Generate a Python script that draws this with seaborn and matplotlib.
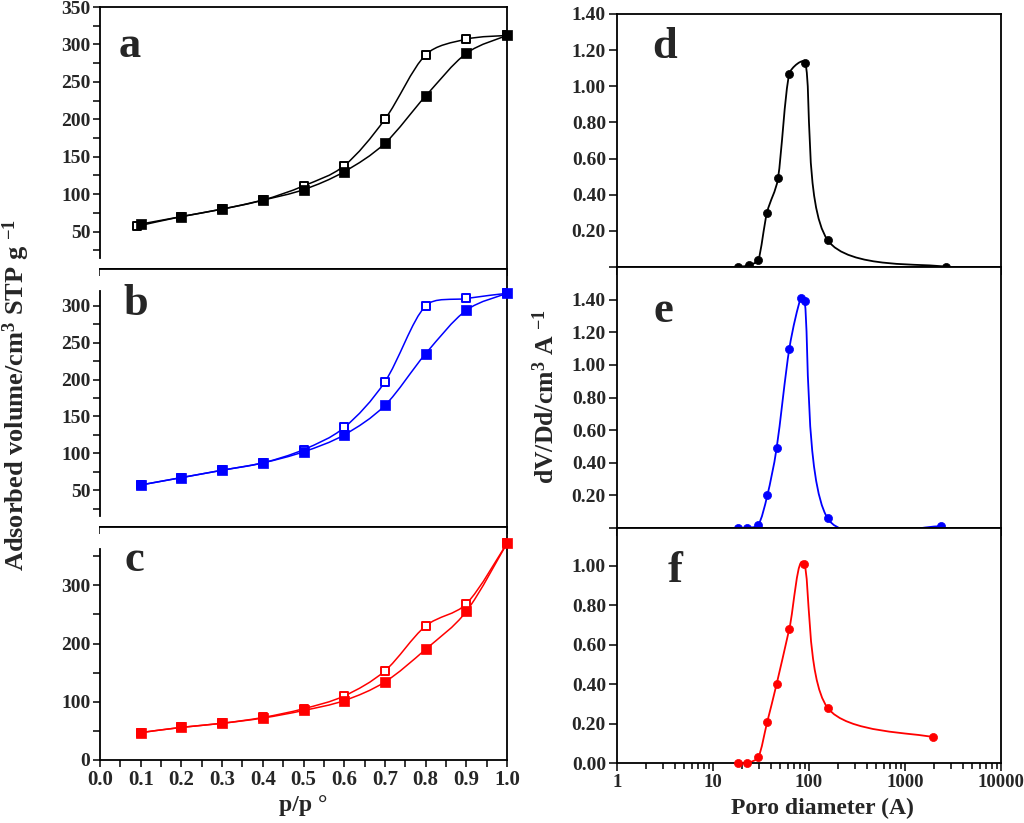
import numpy as np
import pandas as pd
import matplotlib
matplotlib.use('Agg')
import matplotlib.pyplot as plt
import seaborn as sns
from matplotlib.path import Path
from matplotlib.patches import PathPatch
from matplotlib import ticker

# isotherms, relative pressure p/p0
p_ads = [0.1, 0.2, 0.3, 0.4, 0.5, 0.6, 0.7, 0.8, 0.9, 1.0]
p_des_a = [0.09, 0.2, 0.3, 0.4, 0.5, 0.6, 0.7, 0.8, 0.9, 1.0]
p_des = [0.1, 0.2, 0.3, 0.4, 0.5, 0.6, 0.7, 0.8, 0.9, 1.0]
a_ads = [60, 70, 80, 92, 106, 130, 168, 231, 288, 312]
a_des = [57, 70, 80, 92, 111, 138, 200, 286, 307, 312]
b_ads = [57, 67, 77, 87, 102, 125, 165, 235, 294, 317]
b_des = [57, 67, 77, 87, 105, 135, 197, 300, 310, 317]
c_ads = [47, 56, 63, 72, 85, 102, 134, 190, 255, 372]
c_des = [47, 56, 63, 73, 88, 110, 153, 230, 268, 372]

# pore size distributions
d_diam = [18.4, 23.7, 29.7, 36.5, 47.5, 62.4, 91.6, 156, 2670]
d_dv = [0.0, 0.01, 0.04, 0.30, 0.49, 1.07, 1.13, 0.15, 0.0]
e_diam = [18.4, 22.8, 29.7, 36.8, 46, 62.4, 81.9, 90.2, 156, 2370]
e_dv = [0.0, 0.0, 0.02, 0.20, 0.49, 1.10, 1.41, 1.39, 0.06, 0.01]
f_diam = [18.4, 22.8, 29.7, 36.8, 46, 62.4, 88.7, 156, 1970]
f_dv = [0.0, 0.0, 0.03, 0.21, 0.40, 0.68, 1.01, 0.28, 0.13]

a_ticks = [50, 100, 150, 200, 250, 300, 350]
b_ticks = [50, 100, 150, 200, 250, 300]
c_ticks = [0, 100, 200, 300]
psd_ticks = [0.0, 0.2, 0.4, 0.6, 0.8, 1.0, 1.2, 1.4]
f_ticks = [0.0, 0.2, 0.4, 0.6, 0.8, 1.0]
p_ticks = [0.0, 0.1, 0.2, 0.3, 0.4, 0.5, 0.6, 0.7, 0.8, 0.9, 1.0]
diam_ticks = [1, 10, 100, 1000, 10000]

sns.set_theme(style='ticks')
plt.rcParams['font.family'] = ['Liberation Serif', 'DejaVu Serif']
plt.rcParams['font.weight'] = 'bold'
plt.rcParams['mathtext.default'] = 'regular'

W, H = 1024, 823
fig = plt.figure(figsize=(W / 100, H / 100), dpi=100)


def box(x0, y0, x1, y1):
    # pixel box -> figure fraction
    return [x0 / W, 1 - y1 / H, (x1 - x0) / W, (y1 - y0) / H]


def smooth_line(ax, x, y, color, lw, logx=False):
    # smoothed line like a spreadsheet chart: catmull-rom as bezier curves,
    # handles clipped so short segments don't overshoot
    X = np.log10(x) if logx else np.asarray(x, float)
    Y = np.asarray(y, float)
    x0, x1 = ax.get_xlim()
    if logx:
        x0, x1 = np.log10(x0), np.log10(x1)
    y0, y1 = ax.get_ylim()
    sx, sy = x1 - x0, y1 - y0
    n = len(X)
    tang = []
    for i in range(n):
        i0 = max(i - 1, 0)
        i1 = min(i + 1, n - 1)
        tang.append(np.array([(X[i1] - X[i0]) / 6, (Y[i1] - Y[i0]) / 6]))
    verts = [(X[0], Y[0])]
    codes = [Path.MOVETO]
    for i in range(n - 1):
        seg = np.hypot((X[i + 1] - X[i]) / sx, (Y[i + 1] - Y[i]) / sy)
        hs = []
        for t in (tang[i], tang[i + 1]):
            ln = np.hypot(t[0] / sx, t[1] / sy)
            k = min(1.0, 0.4 * seg / ln) if ln > 0 else 1.0
            hs.append(t * k)
        c1 = (X[i] + hs[0][0], Y[i] + hs[0][1])
        c2 = (X[i + 1] - hs[1][0], Y[i + 1] - hs[1][1])
        verts += [c1, c2, (X[i + 1], Y[i + 1])]
        codes += [Path.CURVE4] * 3
    verts = np.array(verts)
    if logx:
        verts[:, 0] = 10 ** verts[:, 0]
    patch = PathPatch(Path(verts, codes), fill=False, edgecolor=color,
                      lw=lw, zorder=2, transform=ax.transData)
    ax.add_patch(patch)


def style_axes(ax):
    for s in ax.spines.values():
        s.set_linewidth(1.3)
        s.set_color('black')
    ax.tick_params(which='both', direction='out', color='black', width=1.1,
                   labelsize=14, pad=2)
    ax.tick_params(axis='x', labelsize=15)


# ---- left column: isotherms ----
iso = [
    ('a', box(100, 7, 507, 269), a_ads, p_des_a, a_des, 'black', (0, 350), a_ticks,
     np.arange(25, 350, 50), (15, 350)),
    ('b', box(100, 269, 507, 527), b_ads, p_des, b_des, 'blue', (0, 350), b_ticks,
     np.arange(25, 300, 50), (15, 320)),
    ('c', box(100, 527, 507, 760), c_ads, p_des, c_des, 'red', (0, 400), c_ticks,
     np.arange(50, 400, 100), (0, 363)),
]
left_axes = []
for name, rect, ads, pd_x, des, col, ylim, yt, ymin, bounds in iso:
    ax = fig.add_axes(rect)
    style_axes(ax)
    ax.set_xlim(0, 1.0)
    ax.set_ylim(*ylim)
    smooth_line(ax, p_ads, ads, col, 1.1)
    smooth_line(ax, pd_x, des, col, 1.1)
    df_ads = pd.DataFrame({'p': p_ads, 'v': ads})
    df_des = pd.DataFrame({'p': pd_x, 'v': des})
    sns.scatterplot(data=df_des, x='p', y='v', marker='s', s=36, color='white',
                    edgecolor=col, linewidth=1.4, ax=ax, zorder=3)
    sns.scatterplot(data=df_ads, x='p', y='v', marker='s', s=42, color=col,
                    edgecolor=col, linewidth=0.5, ax=ax, zorder=4, clip_on=False)
    ax.set_xlim(0, 1.0)
    ax.set_ylim(*ylim)
    ax.set_yticks(yt)
    ax.set_yticks(ymin, minor=True)
    ax.set_xticks(p_ticks)
    ax.xaxis.set_minor_locator(ticker.MultipleLocator(0.05))
    ax.tick_params(axis='y', which='both', length=5)
    ax.tick_params(axis='x', which='both', length=5)
    ax.spines['left'].set_bounds(*bounds)
    ax.set_xlabel('')
    ax.set_ylabel('')
    left_axes.append(ax)

for ax in left_axes[:2]:
    ax.tick_params(axis='x', labelbottom=False)
left_axes[2].set_xticklabels(['%.1f' % t for t in p_ticks])

# ---- right column: pore size distributions ----
psd = [
    ('d', box(617, 14, 1001, 267), d_diam, d_dv, 'black', (0, 1.40), psd_ticks, True),
    ('e', box(617, 267, 1001, 528), e_diam, e_dv, 'blue', (0, 1.60), psd_ticks, True),
    ('f', box(617, 528, 1001, 763), f_diam, f_dv, 'red', (0, 1.19), f_ticks, False),
]
right_axes = []
for name, rect, dx, dv, col, ylim, yt, hide0 in psd:
    ax = fig.add_axes(rect)
    style_axes(ax)
    ax.set_xscale('log')
    ax.set_xlim(1, 10000)
    ax.set_ylim(*ylim)
    smooth_line(ax, dx, dv, col, 1.3, logx=True)
    sns.scatterplot(x=dx, y=dv, marker='o', s=34, color=col, edgecolor=col,
                    linewidth=0.5, ax=ax, zorder=3, clip_on=False)
    ax.set_xlim(1, 10000)
    ax.set_ylim(*ylim)
    ax.set_yticks(yt)
    labels = ['%.2f' % t for t in yt]
    if hide0:
        labels[0] = ''
    ax.set_yticklabels(labels)
    ax.set_xticks(diam_ticks)
    ax.xaxis.set_minor_locator(ticker.LogLocator(base=10, subs=np.arange(2, 10)))
    ax.xaxis.set_minor_formatter(ticker.NullFormatter())
    ax.tick_params(axis='y', length=6)
    ax.tick_params(axis='x', which='major', length=6)
    ax.tick_params(axis='x', which='minor', length=4)
    ax.set_xlabel('')
    ax.set_ylabel('')
    right_axes.append(ax)

for ax in right_axes[:2]:
    ax.tick_params(axis='x', labelbottom=False)
right_axes[2].set_xticklabels([str(t) for t in diam_ticks])
right_axes[2].tick_params(axis='x', labelsize=13.5)

# panel letters
letters = [('a', 130, 57), ('b', 136, 315), ('c', 134, 571),
           ('d', 665, 58), ('e', 663, 322), ('f', 675, 582)]
for txt, px, py in letters:
    fig.text(px / W, 1 - py / H, txt, fontsize=32, fontweight='bold',
             ha='center', va='baseline')

fig.text(16 / W, 1 - 395 / H, 'Adsorbed volume/cm$^3$ STP g $^{-1}$',
         rotation=90, fontsize=19, fontweight='bold', ha='center', va='center')
fig.text(546 / W, 1 - 397 / H, 'dV/Dd/cm$^3$ A $^{-1}$',
         rotation=90, fontsize=18.5, fontweight='bold', ha='center', va='center')
fig.text(303 / W, 1 - 805 / H, 'p/p °', fontsize=17, fontweight='bold',
         ha='center', va='center')
fig.text(822 / W, 1 - 808 / H, 'Poro diameter (A)', fontsize=17, fontweight='bold',
         ha='center', va='center')

fig.savefig('out.png', dpi=100)
